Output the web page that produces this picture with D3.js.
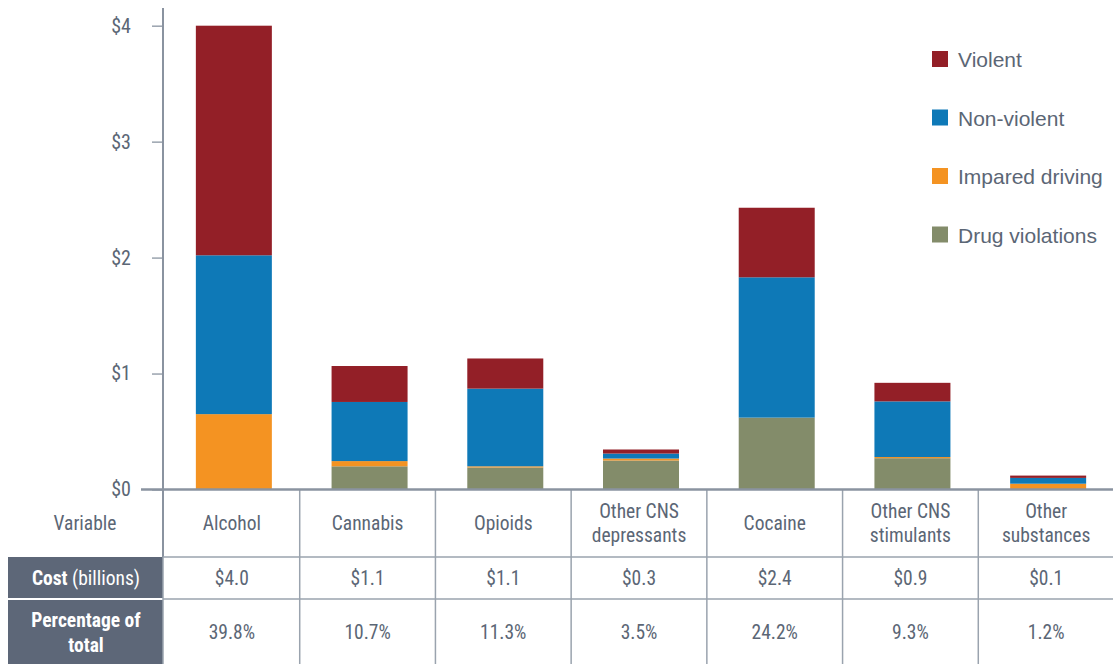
<!DOCTYPE html>
<html lang="en-US">
<head>
    <meta charset="utf-8">
    <script src="https://d3js.org/d3.v7.min.js"></script>
</head>
<body style="margin:0;background:#fff">
<style>
    svg text { fill: #5b6675; }
    .narrow { font-family: "Liberation Sans Narrow", "Roboto Condensed", "DejaVu Sans Condensed", sans-serif; font-stretch: condensed; }
    .legend text { font-family: "Liberation Sans", Arial, sans-serif; font-size: 21px; }
</style>
<svg width="1113" height="664"></svg>

<script>
var categories = ["Alcohol", "Cannabis", "Opioids", "Other CNS depressants", "Cocaine", "Other CNS stimulants", "Other substances"];
var categoryLines = [["Alcohol"], ["Cannabis"], ["Opioids"], ["Other CNS", "depressants"], ["Cocaine"], ["Other CNS", "stimulants"], ["Other", "substances"]];
var drugViolations = [0, 0.20, 0.19, 0.25, 0.62, 0.27, 0];
var impairedDriving = [0.65, 0.045, 0.01, 0.017, 0, 0.01, 0.05];
var nonViolent = [1.37, 0.51, 0.67, 0.043, 1.21, 0.48, 0.05];
var violent = [1.98, 0.31, 0.26, 0.035, 0.60, 0.16, 0.02];
var costLabels = ["$4.0", "$1.1", "$1.1", "$0.3", "$2.4", "$0.9", "$0.1"];
var pctLabels = ["39.8%", "10.7%", "11.3%", "3.5%", "24.2%", "9.3%", "1.2%"];
var seriesNames = ["Violent", "Non-violent", "Impared driving", "Drug violations"];
var yTicks = [0, 1, 2, 3, 4];

var svg = d3.select("svg");
var W = 1113;

var colors = {"Violent": "#931f27", "Non-violent": "#0e79b7", "Impared driving": "#f49322", "Drug violations": "#838c6a"};
var stackKeys = ["Drug violations", "Impared driving", "Non-violent", "Violent"];
var rows = categories.map((c, i) => ({
    cat: c,
    "Drug violations": drugViolations[i],
    "Impared driving": impairedDriving[i],
    "Non-violent": nonViolent[i],
    "Violent": violent[i]
}));

var x = d3.scaleBand().domain(categories).range([166, 1116]).paddingInner(0.44).paddingOuter(0.22);
var col = d3.scaleBand().domain(categories).range([164, 1114]).padding(0);
var y = d3.scaleLinear().domain([0, 4]).range([489.5, 25.7]);

// bars
var stacked = d3.stack().keys(stackKeys)(rows);
svg.append("g").selectAll("g")
    .data(stacked)
    .enter().append("g")
    .attr("fill", d => colors[d.key])
    .selectAll("rect")
    .data(d => d)
    .enter().append("rect")
    .attr("x", d => x(d.data.cat))
    .attr("width", x.bandwidth())
    .attr("y", d => y(d[1]))
    .attr("height", d => Math.max(0, y(d[0]) - y(d[1])));

// y axis
var yAxis = svg.append("g")
    .attr("transform", "translate(163,0)")
    .call(d3.axisLeft(y).tickValues(yTicks).tickSize(11).tickPadding(21).tickFormat(d => "$" + d));
yAxis.select(".domain").remove();
yAxis.selectAll(".tick line").attr("stroke", "#9aa3ae").attr("stroke-width", 1.5);
yAxis.selectAll(".tick text").attr("class", "narrow").attr("font-size", 20).style("fill", "#5b6675");

var lineColor = "#9aa3ae";
svg.append("line").attr("x1", 163).attr("x2", 163).attr("y1", 8).attr("y2", 557)
    .attr("stroke", "#8a93a0").attr("stroke-width", 2);

// table
var rowY = [489.5, 557, 599, 664];
svg.append("rect").attr("x", 8).attr("y", rowY[1]).attr("width", 155).attr("height", rowY[3] - rowY[1]).attr("fill", "#5d6778");
svg.append("line").attr("x1", 8).attr("x2", 163).attr("y1", rowY[2]).attr("y2", rowY[2]).attr("stroke", "#fff").attr("stroke-width", 2);

[rowY[1], rowY[2]].forEach(yy => {
    svg.append("line").attr("x1", 163).attr("x2", W).attr("y1", yy).attr("y2", yy)
        .attr("stroke", lineColor).attr("stroke-width", 1.5);
});
categories.forEach((c, i) => {
    if (i === 0) return;
    svg.append("line").attr("x1", col(c)).attr("x2", col(c)).attr("y1", rowY[0]).attr("y2", rowY[3])
        .attr("stroke", lineColor).attr("stroke-width", 1.5);
});
svg.append("line").attr("x1", 163).attr("x2", 163).attr("y1", rowY[1]).attr("y2", rowY[3])
    .attr("stroke", lineColor).attr("stroke-width", 1.5);

// baseline
svg.append("line").attr("x1", 141).attr("x2", W).attr("y1", 489.5).attr("y2", 489.5)
    .attr("stroke", "#8a93a0").attr("stroke-width", 2.5);

var fs = 19.5;
svg.append("text").attr("class", "narrow").attr("x", 85).attr("y", 530).attr("text-anchor", "middle")
    .attr("font-size", fs).text("Variable");
categories.forEach((c, i) => {
    var cx = col(c) + col.bandwidth() / 2;
    var lines = categoryLines[i];
    var t = svg.append("text").attr("class", "narrow").attr("text-anchor", "middle").attr("font-size", fs);
    if (lines.length === 1) {
        t.attr("x", cx).attr("y", 530).text(lines[0]);
    } else {
        lines.forEach((l, k) => t.append("tspan").attr("x", cx).attr("y", 518 + k * 24).text(l));
    }
    svg.append("text").attr("class", "narrow").attr("text-anchor", "middle").attr("font-size", fs)
        .attr("x", cx).attr("y", 585).text(costLabels[i]);
    svg.append("text").attr("class", "narrow").attr("text-anchor", "middle").attr("font-size", fs)
        .attr("x", cx).attr("y", 639).text(pctLabels[i]);
});

var cost = svg.append("text").attr("class", "narrow").attr("x", 86).attr("y", 585).attr("text-anchor", "middle").attr("font-size", fs);
cost.append("tspan").attr("font-weight", "bold").style("fill", "#fff").text("Cost");
cost.append("tspan").style("fill", "#fff").text(" (billions)");
var pct = svg.append("text").attr("class", "narrow").attr("text-anchor", "middle").attr("font-size", fs).attr("font-weight", "bold");
pct.append("tspan").attr("x", 86).attr("y", 627).style("fill", "#fff").text("Percentage of");
pct.append("tspan").attr("x", 86).attr("y", 652).style("fill", "#fff").text("total");

// legend
var legend = svg.append("g").attr("class", "legend")
    .selectAll("g").data(seriesNames).enter().append("g")
    .attr("transform", (d, i) => `translate(932, ${51 + i * 58.5})`);
legend.append("rect").attr("width", 16).attr("height", 16).attr("fill", d => colors[d]);
legend.append("text").attr("x", 26).attr("y", 16).text(d => d);
</script>
</body>
</html>
